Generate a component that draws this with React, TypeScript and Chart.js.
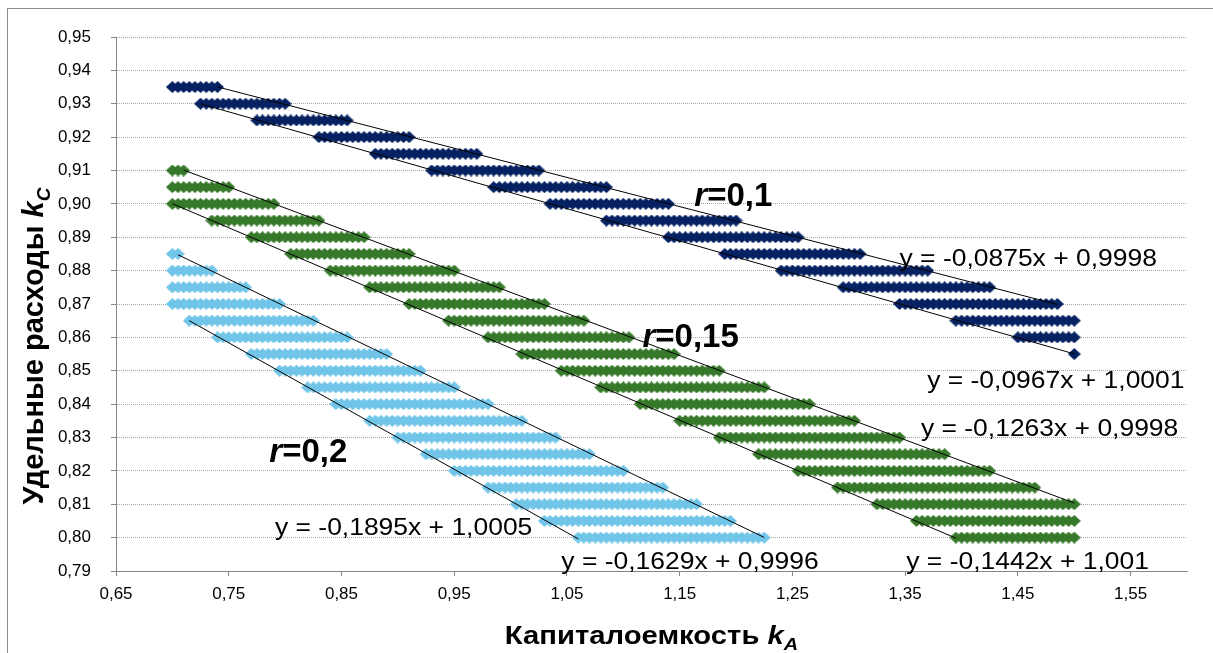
import React, { useEffect, useRef } from "react";
import { Chart, registerables } from "chart.js";

Chart.register(...registerables);

// grid step of kA between neighbouring points in a row
const STEP = 0.005;

// r = 0.1 : rows of kC, first and last kA in each row
const kC_r10 = [0.935, 0.93, 0.925, 0.92, 0.915, 0.91, 0.905, 0.9, 0.895, 0.89, 0.885, 0.88, 0.875, 0.87, 0.865, 0.86, 0.855];
const kAFrom_r10 = [0.7, 0.725, 0.775, 0.83, 0.88, 0.93, 0.985, 1.035, 1.085, 1.14, 1.19, 1.24, 1.295, 1.345, 1.395, 1.45, 1.5];
const kATo_r10 = [0.74, 0.8, 0.855, 0.91, 0.97, 1.025, 1.085, 1.14, 1.2, 1.255, 1.31, 1.37, 1.425, 1.485, 1.5, 1.5, 1.5];

// r = 0.15
const kC_r15 = [0.91, 0.905, 0.9, 0.895, 0.89, 0.885, 0.88, 0.875, 0.87, 0.865, 0.86, 0.855, 0.85, 0.845, 0.84, 0.835, 0.83, 0.825, 0.82, 0.815, 0.81, 0.805, 0.8];
const kAFrom_r15 = [0.7, 0.7, 0.7, 0.735, 0.77, 0.805, 0.84, 0.875, 0.91, 0.945, 0.98, 1.01, 1.045, 1.08, 1.115, 1.15, 1.185, 1.22, 1.255, 1.29, 1.325, 1.36, 1.395];
const kATo_r15 = [0.71, 0.75, 0.79, 0.83, 0.87, 0.91, 0.95, 0.99, 1.03, 1.065, 1.105, 1.145, 1.185, 1.225, 1.265, 1.305, 1.345, 1.385, 1.425, 1.465, 1.5, 1.5, 1.5];

// r = 0.2
const kC_r20 = [0.885, 0.88, 0.875, 0.87, 0.865, 0.86, 0.855, 0.85, 0.845, 0.84, 0.835, 0.83, 0.825, 0.82, 0.815, 0.81, 0.805, 0.8];
const kAFrom_r20 = [0.7, 0.7, 0.7, 0.7, 0.715, 0.74, 0.77, 0.795, 0.82, 0.845, 0.875, 0.9, 0.925, 0.95, 0.98, 1.005, 1.03, 1.06];
const kATo_r20 = [0.705, 0.735, 0.765, 0.795, 0.825, 0.855, 0.89, 0.92, 0.95, 0.98, 1.01, 1.04, 1.07, 1.1, 1.135, 1.165, 1.195, 1.225];

const seriesColors = ["#062262", "#37792a", "#70c5e8"];
const rLabels = ["0,1", "0,15", "0,2"];
const rLabelKA = [1.163, 1.117, 0.786];
const rLabelKC = [0.8995, 0.8571, 0.8226];

// linear trendlines (slope, intercept) and the kA range they span
const trendSlope = [-0.0875, -0.0967, -0.1263, -0.1442, -0.1629, -0.1895];
const trendIntercept = [0.9998, 1.0001, 0.9998, 1.001, 0.9996, 1.0005];
const trendFrom = [0.74, 0.725, 0.71, 0.7, 0.705, 0.715];
const trendTo = [1.485, 1.5, 1.5, 1.395, 1.225, 1.06];
// equation label anchors (left, baseline) in data units
const eqKA = [1.345, 1.3695, 1.364, 1.351, 1.045, 0.791];
const eqKC = [0.8815, 0.8448, 0.8303, 0.7907, 0.7907, 0.8008];

const xTicks = [0.65, 0.75, 0.85, 0.95, 1.05, 1.15, 1.25, 1.35, 1.45, 1.55];
const yTicks = [0.79, 0.8, 0.81, 0.82, 0.83, 0.84, 0.85, 0.86, 0.87, 0.88, 0.89, 0.9, 0.91, 0.92, 0.93, 0.94, 0.95];

const FAMILY = "'Liberation Sans', Arial, sans-serif";

const comma = (v: number) => String(v).replace(".", ",");
const fmt2 = (v: number) => Number(v).toFixed(2).replace(".", ",");

function expandRows(kc: number[], from: number[], to: number[]) {
  const pts: { x: number; y: number }[] = [];
  kc.forEach((y, i) => {
    const a = Math.round(from[i] / STEP);
    const b = Math.round(to[i] / STEP);
    for (let k = a; k <= b; k++) pts.push({ x: +(k * STEP).toFixed(3), y });
  });
  return pts;
}

function diamond(color: string) {
  const w = 13;
  const h = 12;
  const c = document.createElement("canvas");
  c.width = w;
  c.height = h;
  const g = c.getContext("2d")!;
  g.fillStyle = color;
  g.beginPath();
  g.moveTo(0, h / 2);
  g.lineTo(w / 2, 0);
  g.lineTo(w, h / 2);
  g.lineTo(w / 2, h);
  g.closePath();
  g.fill();
  return c;
}

type Part = { text: string; font: string; dy?: number };

function partsWidth(ctx: CanvasRenderingContext2D, parts: Part[]) {
  let w = 0;
  for (const p of parts) {
    ctx.font = p.font;
    w += ctx.measureText(p.text).width;
  }
  return w;
}

function drawParts(ctx: CanvasRenderingContext2D, parts: Part[], x: number, y: number, sx: number, center: boolean, rot = 0) {
  ctx.save();
  ctx.translate(x, y);
  if (rot) ctx.rotate(rot);
  ctx.scale(sx, 1);
  ctx.textBaseline = "alphabetic";
  ctx.textAlign = "left";
  let cx = center ? -partsWidth(ctx, parts) / 2 : 0;
  for (const p of parts) {
    ctx.font = p.font;
    ctx.fillText(p.text, cx, p.dy || 0);
    cx += ctx.measureText(p.text).width;
  }
  ctx.restore();
}

const annotations = {
  id: "annotations",
  afterDatasetsDraw(chart: any) {
    const ctx: CanvasRenderingContext2D = chart.ctx;
    const xs = chart.scales.x;
    const ys = chart.scales.y;
    ctx.save();
    ctx.fillStyle = "#000";
    // trendline equations
    trendSlope.forEach((m, i) => {
      const txt = `y = ${comma(m)}x + ${comma(trendIntercept[i])}`;
      drawParts(ctx, [{ text: txt, font: `23px ${FAMILY}` }], xs.getPixelForValue(eqKA[i]), ys.getPixelForValue(eqKC[i]), 1.15, false);
    });
    // r labels
    rLabels.forEach((t, i) => {
      drawParts(
        ctx,
        [
          { text: "r", font: `italic bold 33px ${FAMILY}` },
          { text: "=" + t, font: `bold 33px ${FAMILY}` },
        ],
        xs.getPixelForValue(rLabelKA[i]),
        ys.getPixelForValue(rLabelKC[i]),
        1.0,
        false
      );
    });
    ctx.restore();
  },
  afterDraw(chart: any) {
    const ctx: CanvasRenderingContext2D = chart.ctx;
    const area = chart.chartArea;
    ctx.save();
    // chart border
    ctx.strokeStyle = "#8c8c8c";
    ctx.lineWidth = 1;
    ctx.strokeRect(7.5, 8.5, 1400, 800);
    ctx.fillStyle = "#000";
    // x title
    drawParts(
      ctx,
      [
        { text: "Капиталоемкость ", font: `bold 25px ${FAMILY}` },
        { text: "k", font: `italic bold 25px ${FAMILY}` },
        { text: "A", font: `italic bold 17px ${FAMILY}`, dy: 6 },
      ],
      (area.left + area.right) / 2,
      644,
      1.17,
      true
    );
    // y title
    drawParts(
      ctx,
      [
        { text: "Удельные расходы ", font: `bold 29px ${FAMILY}` },
        { text: "k", font: `italic bold 29px ${FAMILY}` },
        { text: "C", font: `italic bold 19px ${FAMILY}`, dy: 7 },
      ],
      43,
      346,
      1.0,
      true,
      -Math.PI / 2
    );
    ctx.restore();
  },
};

export default function App() {
  const ref = useRef<HTMLCanvasElement>(null);
  useEffect(() => {
    const canvas = ref.current!;
    const groups = [
      expandRows(kC_r10, kAFrom_r10, kATo_r10),
      expandRows(kC_r15, kAFrom_r15, kATo_r15),
      expandRows(kC_r20, kAFrom_r20, kATo_r20),
    ];
    const trendSets = trendSlope.map((m, i) => ({
      type: "scatter" as const,
      label: "trend" + i,
      data: [
        { x: trendFrom[i], y: m * trendFrom[i] + trendIntercept[i] },
        { x: trendTo[i], y: m * trendTo[i] + trendIntercept[i] },
      ],
      showLine: true,
      borderColor: "#000",
      borderWidth: 1,
      pointRadius: 0,
      order: 0,
    }));
    const pointSets = groups.map((pts, i) => ({
      type: "scatter" as const,
      label: "r=" + rLabels[i],
      data: pts,
      pointStyle: diamond(seriesColors[i]),
      backgroundColor: seriesColors[i],
      borderColor: seriesColors[i],
      showLine: false,
      order: 1,
    }));
    const tickFont = { family: FAMILY, size: 17 };
    const chart = new Chart(canvas, {
      type: "scatter",
      data: { datasets: [...trendSets, ...pointSets] as any },
      options: {
        responsive: false,
        animation: false,
        events: [],
        layout: { padding: { left: 0, right: 26, top: 37, bottom: 0 } },
        plugins: { legend: { display: false }, tooltip: { enabled: false } },
        scales: {
          x: {
            type: "linear",
            min: 0.65,
            max: 1.6,
            afterBuildTicks: (s: any) => {
              s.ticks = xTicks.map((v) => ({ value: v }));
            },
            afterFit: (s: any) => {
              s.height = 82;
            },
            grid: { drawOnChartArea: false, drawTicks: true, tickLength: 5, tickColor: "#868686" },
            border: { color: "#868686", width: 1 },
            ticks: { font: tickFont, color: "#000", padding: 8, maxRotation: 0, autoSkip: false, callback: (v: any) => fmt2(v) },
          },
          y: {
            type: "linear",
            min: 0.79,
            max: 0.95,
            afterBuildTicks: (s: any) => {
              s.ticks = yTicks.map((v) => ({ value: v }));
            },
            afterFit: (s: any) => {
              s.width = 116;
            },
            grid: { color: "#a6a6a6", lineWidth: 1, tickLength: 5, tickColor: "#868686", tickBorderDash: [] },
            border: { color: "#868686", width: 1, dash: [1, 1] },
            ticks: { font: tickFont, color: "#000", padding: 20, autoSkip: false, callback: (v: any) => fmt2(v) },
          },
        },
      },
      plugins: [annotations],
    } as any);
    return () => chart.destroy();
  }, []);
  return (
    <div style={{ position: "fixed", left: 0, top: 0, width: 1213, height: 653, background: "#fff" }}>
      <canvas ref={ref} width={1213} height={653} style={{ display: "block" }} />
    </div>
  );
}
